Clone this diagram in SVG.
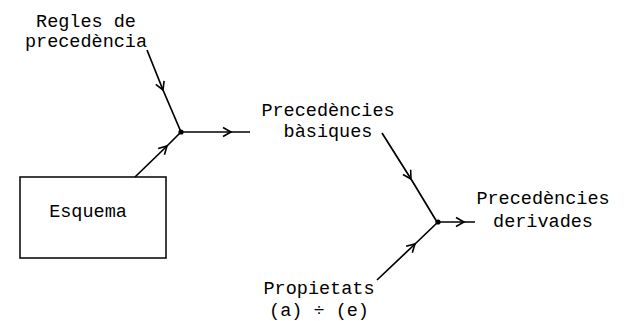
<svg xmlns="http://www.w3.org/2000/svg" width="626" height="321" viewBox="0 0 626 321">
<style>
.t{font-family:"Liberation Mono","DejaVu Sans Mono",monospace;font-size:18.5px;fill:#000}
.c{fill:none;stroke:#000;stroke-width:1.7;marker-mid:url(#a)}
.box{fill:none;stroke:#000;stroke-width:1.5}
</style>
<defs>
<marker id="a" markerUnits="userSpaceOnUse" viewBox="-10 -6 12 12" refX="0" refY="0" markerWidth="12" markerHeight="12" orient="auto">
<path d="M-8,-4.5 L0,0 L-8,4.5" fill="none" stroke="#000" stroke-width="1.6"/>
</marker>
</defs>
<rect width="626" height="321" fill="#fff"/>
<g id="connectors">
<polyline class="c" points="147,50 163,90 181,132"/>
<polyline class="c" points="135,177 167,146 181,132"/>
<polyline class="c" points="181,132 231,132 250,132"/>
<polyline class="c" points="382,133 411,179 437,222"/>
<polyline class="c" points="377,280 415,244 438,222"/>
<polyline class="c" points="438,222 464,222 475,222"/>
<circle cx="181" cy="132" r="2.6" fill="#000"/>
<circle cx="438" cy="222" r="2.6" fill="#000"/>
</g>
<g id="regles">
<text class="t" x="86" y="27" text-anchor="middle">Regles de</text>
<text class="t" x="86" y="47" text-anchor="middle">precedència</text>
</g>
<g id="esquema">
<rect class="box" x="20" y="177" width="146" height="81"/>
<text class="t" x="88" y="217" text-anchor="middle">Esquema</text>
</g>
<g id="basiques">
<text class="t" x="328" y="116" text-anchor="middle">Precedències</text>
<text class="t" x="328" y="137" text-anchor="middle">bàsiques</text>
</g>
<g id="derivades">
<text class="t" x="543" y="204" text-anchor="middle">Precedències</text>
<text class="t" x="543" y="227" text-anchor="middle">derivades</text>
</g>
<g id="propietats">
<text class="t" x="319" y="294" text-anchor="middle">Propietats</text>
<text class="t" x="319" y="316" text-anchor="middle">(a) ÷ (e)</text>
</g>
</svg>
